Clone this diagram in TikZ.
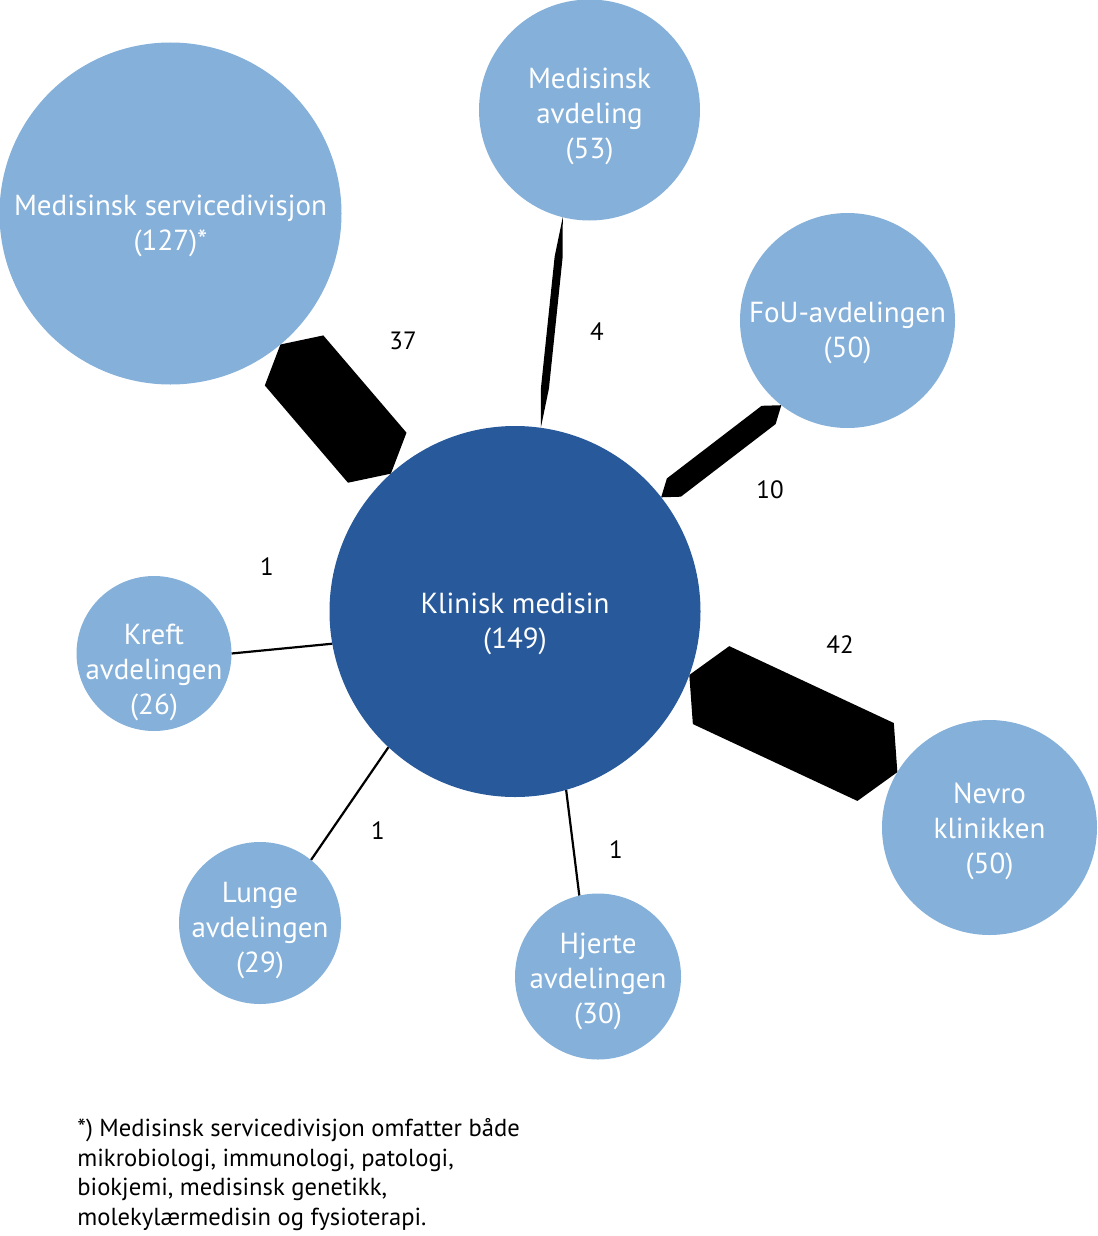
\documentclass[tikz,border=0pt]{standalone}
\usepackage{fontspec}
\setmainfont{PT Sans}
\usetikzlibrary{calc, backgrounds}
\definecolor{cdept}{HTML}{84B0DA}
\definecolor{chub}{HTML}{27599B}

% filled band between two border points: half width #3, bevel length #4
\newcommand\flowband[4]{%
  \coordinate (bandA) at (#1);
  \coordinate (bandB) at (#2);
  \coordinate (bandP) at ($(bandA)!#4!(bandB)$);
  \coordinate (bandQ) at ($(bandB)!#4!(bandA)$);
  \fill[band] (bandA) -- ($(bandP)!#3!90:(bandB)$) -- ($(bandQ)!#3!-90:(bandA)$)
    -- (bandB) -- ($(bandQ)!#3!90:(bandA)$) -- ($(bandP)!#3!-90:(bandB)$) -- cycle;
}

\begin{document}
\begin{tikzpicture}[
  x=0.5pt, y=-0.5pt,
  unit/.style={circle, fill=cdept, draw=none, inner sep=0pt, outer sep=0pt},
  hub/.style={unit, fill=chub},
  every label/.append style={text=white, align=center,
               font=\fontsize{14.5}{17.5}\selectfont},
  link/.style={draw=black, line width=1.1pt},
  band/.style={fill=black},
  count/.style={font=\fontsize{12.5}{14}\selectfont},
  note/.style={align=left, anchor=north west, inner sep=0pt,
               font=\fontsize{12.3}{14.8}\selectfont},
  ]
\useasboundingbox (0,0) rectangle (1097,1236);

\node[unit, minimum size=171pt,
      label={[yshift=-6pt]center:{Medisinsk servicedivisjon\\(127)*}}] (ms) at (170.5,213.5) {};
\node[unit, minimum size=110.5pt,
      label={[yshift=-3pt]center:{Medisinsk\\avdeling\\(53)}}] (ma) at (589.5,110) {};
\node[unit, minimum size=107.5pt,
      label={[yshift=-6pt]center:{FoU-avdelingen\\(50)}}] (fou) at (847.5,320.5) {};
\node[hub, minimum size=185.5pt,
      label={[yshift=-6pt]center:{Klinisk medisin\\(149)}}] (km) at (515,611.5) {};
\node[unit, minimum size=77.5pt,
      label={[yshift=-9.5pt]center:{Kreft\\avdelingen\\(26)}}] (kreft) at (154,653.5) {};
\node[unit, minimum size=107.5pt,
      label={[yshift=-2pt]center:{Nevro\\klinikken\\(50)}}] (nevro) at (989.5,827.5) {};
\node[unit, minimum size=81pt,
      label={[yshift=-4pt]center:{Lunge\\avdelingen\\(29)}}] (lunge) at (260,923) {};
\node[unit, minimum size=83pt,
      label={[yshift=-2.5pt]center:{Hjerte\\avdelingen\\(30)}}] (hjerte) at (598,976.5) {};

\begin{scope}[on background layer]
\flowband{ms.-50}{km.132}{19.25pt}{10.5pt}
\flowband{ma.-104}{km.82}{2pt}{20pt}
\flowband{fou.-128}{km.38}{5.75pt}{8pt}
\flowband{km.-20}{nevro.149}{21.5pt}{12pt}
\draw[link] (kreft.0) -- (km.190);
\draw[link] (lunge.51) -- (km.227);
\draw[link] (hjerte.103) -- (km.-74);
\end{scope}

\node[count] (n37) at (403,341) {37};
\node[count] (n4) at (597,332) {4};
\node[count] (n10) at (770,490) {10};
\node[count] (n42) at (840,645) {42};
\node[count] (n1a) at (267,567) {1};
\node[count] (n1b) at (378,831) {1};
\node[count] (n1c) at (616,850) {1};

\node[note] (fn) at (77,1118) {*) Medisinsk servicedivisjon omfatter både\\
  mikrobiologi, immunologi, patologi,\\
  biokjemi, medisinsk genetikk,\\
  molekylærmedisin og fysioterapi.};
\end{tikzpicture}
\end{document}
